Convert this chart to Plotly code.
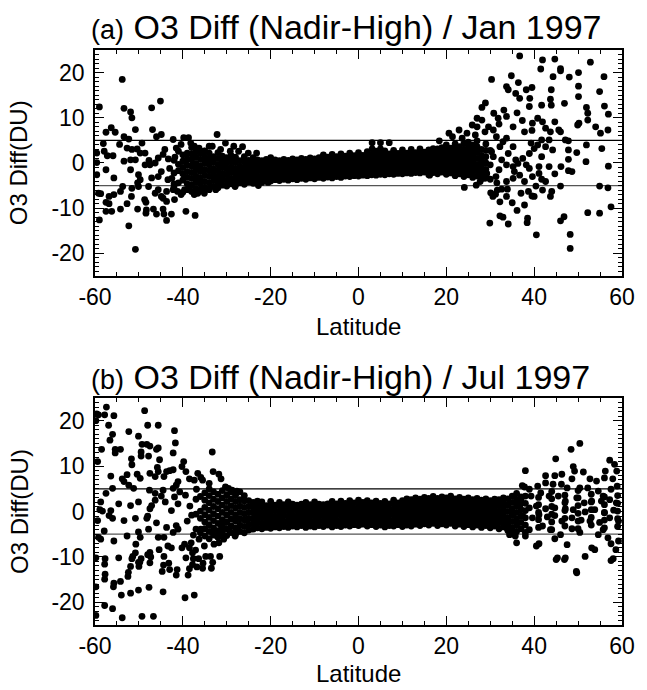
import plotly.graph_objects as go

# ---------------- Panel (a): Jan 1997 ----------------
band_a_lat = [-42, -41, -40, -39, -38, -37, -36, -35, -34, -33, -32, -31, -30, -29, -28, -27, -26, -25, -24, -23,
              -22, -21, -20, -19, -18, -17, -16, -15, -14, -13, -12, -11, -10, -9, -8, -7, -6, -5, -4, -3,
              -2, -1, 0, 1, 2, 3, 4, 5, 6, 7, 8, 9, 10, 11, 12, 13, 14, 15, 16, 17,
              18, 19, 20, 21, 22, 23, 24, 25, 26, 27, 28, 29, 30]
band_a_vals = [
    [-5.2, -2.2, 0.6], [-4.4, -1.7, -0.3, 2.6],
    [-6.5, -3.8, -2.4, -1.0, 0.4, 1.8], [-5.9, -4.6, -3.2, -1.9, -0.5, 0.9, 2.2],
    [-6.3, -4.8, -3.4, -2.1, -0.7, 0.7, 2.0, 3.4], [-5.6, -4.2, -2.9, -1.5, -0.2, 1.2, 2.5],
    [-6.0, -4.6, -3.3, -1.9, -0.6, 0.8, 2.1], [-5.4, -4.1, -2.7, -1.4, 0.0, 1.3, 2.7],
    [-5.7, -4.4, -3.0, -1.7, -0.4, 0.9, 2.2], [-5.2, -3.9, -2.6, -1.3, 0.1, 1.4],
    [-5.5, -4.2, -2.9, -1.6, -0.3, 1.0, 2.3], [-4.9, -3.6, -2.3, -1.0, 0.3, 1.5],
    [-5.1, -3.9, -2.6, -1.3, 0.0, 1.2], [-4.6, -3.4, -2.1, -0.9, 0.4, 1.6],
    [-4.8, -3.6, -2.4, -1.2, 0.1, 1.3], [-4.4, -3.2, -2.0, -0.8, 0.5],
    [-4.7, -3.5, -2.3, -1.1, 0.2, 1.4], [-4.2, -3.0, -1.8, -0.6, 0.6],
    [-4.5, -3.3, -2.1, -0.9, 0.3, 1.2], [-4.1, -2.9, -1.7, -0.5, 0.7],
    [-4.3, -3.1, -1.9, -0.7, 0.5], [-3.9, -2.8, -1.6, -0.4, 0.8],
    [-4.0, -2.9, -1.8, -0.7, 0.4, 1.2], [-3.7, -2.6, -1.5, -0.4, 0.7],
    [-3.9, -2.8, -1.7, -0.6, 0.5], [-3.6, -2.5, -1.4, -0.3, 0.8],
    [-3.8, -2.7, -1.6, -0.5, 0.6], [-3.5, -2.4, -1.3, -0.2, 0.9],
    [-3.7, -2.6, -1.5, -0.4, 0.7], [-3.4, -2.3, -1.2, -0.1, 1.0],
    [-3.6, -2.5, -1.4, -0.3, 0.8], [-3.3, -2.2, -1.1, 0.0, 1.1],
    [-3.5, -2.4, -1.3, -0.2, 0.9], [-3.2, -2.1, -1.0, 0.1, 1.2],
    [-3.4, -2.3, -1.2, -0.1, 1.0, 1.8], [-3.1, -2.0, -0.9, 0.2, 1.3],
    [-3.3, -2.2, -1.1, 0.0, 1.1, 1.9], [-3.0, -1.9, -0.8, 0.3, 1.4],
    [-3.2, -2.1, -1.0, 0.1, 1.2, 2.0], [-2.9, -1.8, -0.7, 0.4, 1.5],
    [-3.0, -1.9, -0.8, 0.3, 1.4, 2.2], [-2.8, -1.7, -0.6, 0.5, 1.6],
    [-2.9, -1.8, -0.7, 0.4, 1.5, 2.3], [-2.7, -1.6, -0.5, 0.6, 1.7],
    [-2.8, -1.7, -0.6, 0.5, 1.6, 2.5], [-2.6, -1.5, -0.4, 0.7, 1.8],
    [-2.7, -1.6, -0.5, 0.6, 1.7, 2.6], [-2.5, -1.4, -0.3, 0.8, 1.9],
    [-2.6, -1.5, -0.4, 0.7, 1.8, 2.7], [-2.4, -1.3, -0.2, 0.9, 2.0],
    [-2.5, -1.4, -0.3, 0.8, 1.9, 2.8], [-2.3, -1.2, -0.1, 1.0, 2.1],
    [-2.4, -1.3, -0.2, 0.9, 2.0, 2.9], [-2.2, -1.1, 0.0, 1.1, 2.2],
    [-2.3, -1.2, -0.1, 1.0, 2.1, 3.0], [-2.1, -1.0, 0.1, 1.2, 2.3],
    [-2.2, -1.1, 0.0, 1.1, 2.2, 3.1], [-2.0, -0.9, 0.2, 1.3, 2.4],
    [-2.6, -1.5, -0.4, 0.7, 1.8, 2.9], [-2.1, -1.0, 0.1, 1.2, 2.3, 3.2],
    [-2.4, -1.3, -0.2, 0.9, 2.0, 3.1], [-2.0, -0.9, 0.2, 1.3, 2.4, 3.4],
    [-2.5, -1.4, -0.3, 0.8, 1.9, 3.0, 4.0], [-2.2, -1.1, 0.0, 1.1, 2.2, 3.3],
    [-2.8, -1.6, -0.4, 0.8, 2.0, 3.2, 4.2], [-2.4, -1.2, 0.0, 1.2, 2.4, 3.6],
    [-3.0, -1.8, -0.6, 0.6, 1.8, 3.0, 4.3], [-2.6, -1.4, -0.2, 1.0, 2.2, 3.4, 4.6],
    [-3.2, -2.0, -0.8, 0.4, 1.6, 2.8, 4.0], [-2.9, -1.6, -0.3, 1.0, 2.3, 3.6, 4.9],
    [-3.5, -2.2, -0.9, 0.4, 1.7, 3.0], [-2.8, -1.4, 0.0, 1.4, 2.8, 4.2],
    [-3.6, -0.4, 2.8],
]

scat_a_lat = [
    -59.0, -53.8, -53.4, -51.9, -51.6, -47.1, -45.1, -50.8, -56.3, -57.5,
    -55.4, -46.9, -44.9, -46.0, -53.4, -52.3, -58.1, -54.4, -49.3, -42.2,
    -39.8, -38.7, -32.2, -30.3, -28.4, -26.4, -59.6, -57.9, -57.2, -55.9,
    -52.7, -51.6, -50.4, -48.6, -49.7, -59.6, -57.5, -53.4, -51.9, -50.8,
    -48.6, -47.7, -46.3, -45.6, -44.5, -44.1, -59.6, -55.7, -51.9, -50.1,
    -49.7, -50.3, -47.5, -47.1, -45.6, -44.9, -43.4, -59.2, -58.7, -56.8,
    -55.7, -54.2, -53.7, -51.6, -51.7, -50.1, -47.8, -46.3, -45.6, -44.9,
    -43.7, -42.2, -57.5, -56.8, -52.7, -48.7, -48.4, -44.5, -43.7, -41.9,
    -57.5, -56.2, -54.2, -50.3, -48.3, -48.4, -46.7, -46.0, -44.5, -44.3,
    -42.6, -43.7, -39.3, -37.2, -59.0, -52.3, -50.8,
    -41.5, -40.4, -38.2, -37.4, -36.3, -35.1, -34.0, -33.3, -31.4, -29.2, -27.3, -25.1, -23.2,
    -40.4, -39.6, -38.5, -37.4, -36.6, -35.1, -34.0, -32.5, -28.1, -26.2, -22.8, -20.6,
    -43.0, -42.5, -41.8, -43.3, -42.0, -41.2,
    36.7, 41.9, 44.7, 41.5, 46.0, 46.0, 44.3, 52.8, 55.9, 50.1,
    48.0, 30.3, 34.8, 33.7, 34.1, 36.4, 35.8, 38.2, 39.5, 36.7,
    39.0, 38.9, 41.7, 43.9, 43.7, 43.9, 46.9, 50.1, 50.1, 51.9,
    52.2, 54.9, 56.0, 56.9, 28.9, 28.1, 27.0, 28.1, 30.8, 31.8,
    33.1, 33.7, 32.0, 30.7, 29.6, 28.8, 35.2, 36.1, 37.3, 37.8,
    39.6, 39.5, 40.8, 41.9, 42.6, 43.7, 44.7, 46.0, 50.2, 52.2,
    54.0, 55.1, 56.8, 47.8, 51.9, 55.4, 51.8, 56.9, 47.8, 47.8,
    48.6, 46.1, 46.0, 44.0, 43.7, 42.6, 41.7, 41.1, 40.4, 39.5,
    40.0, 38.7, 37.8, 36.1, 35.0, 33.7, 33.9, 32.6, 31.6, 31.5,
    30.1, 30.6, 32.2, 29.9, 32.2, 32.9, 34.1, 38.5, 38.4, 40.5,
    46.0, 46.8, 48.2, 48.2, 52.2, 54.9, 57.5, 56.8, 54.9, 24.1,
    26.8, 27.7, 28.8, 29.2, 35.2, 36.3, 35.5, 36.7, 35.2, 35.8,
    34.1, 35.2, 32.9, 33.7, 31.4, 32.2, 30.3, 30.7, 32.6, 33.7,
    32.0, 31.3, 38.9, 40.0, 40.8, 39.3, 41.7, 42.6, 43.4, 44.2,
    41.7, 37.4, 38.2, 38.9, 41.1, 43.4, 44.7, 39.6, 37.8, 33.7,
    41.9, 37.0, 31.2, 47.8, 49.7, 47.1, 49.9, 45.6,
    3.1, 5.0, 7.0, 3.1, 5.0, 16.2, 18.4, 20.6, 21.4, 22.9,
    23.6, 24.7, 25.9, 26.6, 27.0,
]
scat_a_diff = [
    12.4, 18.5, 12.1, 11.3, 10.0, 12.2, 13.7, 7.4, 7.8, 6.8,
    6.8, 7.4, 6.3, 5.8, 5.8, 5.3, 4.3, 4.1, 4.4, 5.2,
    5.6, 5.6, 6.3, 4.4, 3.7, 3.6, 2.2, 2.6, 1.6, 1.6,
    3.3, 3.0, 3.1, 2.2, 2.2, 0.1, -1.5, 0.4, 0.7, 0.7,
    -0.4, 0.6, 0.0, 1.1, 1.9, 3.0, -2.6, -3.3, -1.5, -2.6,
    -3.7, -4.4, -0.4, -3.3, -3.0, -1.9, -3.7, -6.7, -6.8, -7.4,
    -7.0, -6.3, -5.2, -5.6, -7.4, -5.2, -5.2, -6.7, -5.9, -7.4,
    -6.3, -5.9, -8.7, -9.0, -9.0, -8.1, -8.7, -7.8, -8.5, -8.1,
    -10.7, -10.7, -10.2, -10.2, -10.4, -11.1, -10.2, -11.3, -10.2, -11.3,
    -11.3, -12.7, -10.7, -11.6, -12.6, -13.9, -19.1,
    3.3, 4.1, 4.4, 3.7, 3.3, 2.6, 3.7, 3.7, 3.0, 2.6, 2.6, 2.2, 2.2,
    -7.0, -5.9, -5.6, -7.0, -6.7, -6.7, -5.9, -5.9, -5.2, -4.4, -5.0, -4.3,
    -1.2, -3.4, 1.3, 0.9, -4.6, -6.3,
    23.7, 22.8, 23.0, 20.8, 20.9, 20.4, 19.1, 22.3, 19.1, 20.0,
    19.0, 18.5, 19.3, 16.9, 16.2, 17.8, 15.4, 16.2, 16.7, 14.3,
    14.3, 12.5, 12.8, 16.2, 14.1, 12.8, 13.2, 17.0, 14.7, 12.3,
    11.0, 15.8, 12.6, 10.8, 13.3, 12.3, 9.9, 9.5, 11.0, 9.9,
    11.7, 10.3, 8.6, 7.3, 8.0, 6.9, 8.0, 11.1, 9.4, 6.9,
    8.8, 7.2, 9.9, 9.1, 7.7, 6.9, 9.1, 6.9, 8.8, 9.5,
    8.0, 6.6, 7.3, 4.9, 4.0, 3.2, 0.3, -0.7, 0.8, -1.7,
    -1.9, -0.8, -5.1, -6.3, -7.4, -4.1, -3.6, -2.3, -5.1, -7.3,
    -7.4, -6.3, -9.3, -10.5, -8.8, -7.4, -5.8, -5.8, -6.0, -4.4,
    -6.6, -7.4, -8.6, -13.3, -11.7, -12.0, -13.5, -12.2, -13.2, -15.9,
    -12.8, -11.9, -15.8, -18.9, -11.0, -11.1, -9.7, -5.5, -5.1, -5.4,
    -4.9, -4.1, -3.4, -2.3, -0.8, -0.1, -1.9, -2.7, -3.4, 0.7,
    2.1, 3.6, 4.7, 5.5, 5.8, 3.6, 2.5, 1.4, 0.7, -0.4,
    -1.5, -3.0, 2.1, 3.2, 4.0, 4.4, 5.1, 3.6, 5.1, 2.9,
    1.4, 1.0, -0.4, -1.2, -0.8, -0.8, -2.4, -3.0, -4.1, -4.1,
    -6.0, -6.7, -6.9, 2.9, 2.3, 5.1, 8.4, 7.3,
    4.5, 4.5, 4.5, 3.1, 3.1, -2.7, 4.9, 6.6, 5.8, 7.3,
    5.5, 6.6, 8.4, 6.2, 8.0,
]

# ---------------- Panel (b): Jul 1997 ----------------
band_b_lat = [-37, -36, -35, -34, -33, -32, -31, -30, -29, -28, -27, -26, -25, -24, -23, -22, -21, -20, -19, -18,
              -17, -16, -15, -14, -13, -12, -11, -10, -9, -8, -7, -6, -5, -4, -3, -2, -1, 0, 1, 2,
              3, 4, 5, 6, 7, 8, 9, 10, 11, 12, 13, 14, 15, 16, 17, 18, 19, 20, 21, 22,
              23, 24, 25, 26, 27, 28, 29, 30, 31, 32, 33, 34, 35, 36, 37, 38,
              41, 44, 47, 50, 53, 56, 59]
band_b_vals = [
    [-3.9, -0.6, 2.7], [-4.7, -1.5, 0.1, 3.3],
    [-5.4, -3.8, -2.3, -0.7, 0.9, 2.5, 4.1], [-6.0, -4.4, -2.9, -1.3, 0.3, 1.9, 3.5, 5.0],
    [-5.2, -3.6, -2.0, -0.5, 1.1, 2.7, 4.3], [-5.7, -4.2, -2.6, -1.0, 0.6, 2.2, 3.8],
    [-4.9, -3.4, -1.8, -0.2, 1.4, 3.0, 4.6], [-5.3, -3.8, -2.3, -0.8, 0.7, 2.2, 3.7],
    [-4.6, -3.2, -1.7, -0.2, 1.3, 2.8, 4.3], [-5.0, -3.6, -2.1, -0.7, 0.8, 2.2, 3.6],
    [-4.4, -3.0, -1.6, -0.2, 1.2, 2.6], [-4.7, -3.3, -1.9, -0.5, 0.9, 2.3, 3.5],
    [-4.1, -2.8, -1.5, -0.2, 1.1, 2.4], [-3.9, -2.7, -1.5, -0.3, 0.9, 2.0],
    [-3.6, -2.4, -1.2, 0.0, 1.2, 2.3], [-3.8, -2.6, -1.4, -0.2, 1.0, 2.1],
    [-3.5, -2.3, -1.1, 0.1, 1.3], [-3.7, -2.5, -1.3, -0.1, 1.1, 2.2],
    [-3.4, -2.2, -1.0, 0.2, 1.4], [-3.6, -2.4, -1.2, 0.0, 1.2, 2.0],
    [-3.3, -2.1, -0.9, 0.3, 1.5], [-3.5, -2.3, -1.1, 0.1, 1.3, 2.1],
    [-3.2, -2.0, -0.8, 0.4, 1.6], [-3.4, -2.2, -1.0, 0.2, 1.4],
    [-3.1, -1.9, -0.7, 0.5, 1.6], [-3.5, -2.3, -1.1, 0.1, 1.3, 2.0],
    [-3.2, -2.0, -0.8, 0.4, 1.5], [-3.4, -2.2, -1.0, 0.2, 1.4, 2.1],
    [-3.1, -1.9, -0.7, 0.5, 1.6], [-3.3, -2.1, -0.9, 0.3, 1.5],
    [-3.0, -1.8, -0.6, 0.6, 1.7], [-3.4, -2.2, -1.0, 0.2, 1.4, 2.2],
    [-3.1, -1.9, -0.7, 0.5, 1.7], [-3.3, -2.1, -0.9, 0.3, 1.5, 2.3],
    [-3.0, -1.8, -0.6, 0.6, 1.8], [-3.2, -2.0, -0.8, 0.4, 1.6, 2.4],
    [-2.9, -1.7, -0.5, 0.7, 1.9], [-3.1, -1.9, -0.7, 0.5, 1.7, 2.5],
    [-2.8, -1.6, -0.4, 0.8, 2.0], [-3.2, -2.0, -0.8, 0.4, 1.6, 2.4],
    [-2.9, -1.7, -0.5, 0.7, 1.9], [-3.3, -2.1, -0.9, 0.3, 1.5, 2.3],
    [-3.0, -1.8, -0.6, 0.6, 1.8], [-3.4, -2.2, -1.0, 0.2, 1.4, 2.2],
    [-3.1, -1.9, -0.7, 0.5, 1.7], [-3.2, -2.0, -0.8, 0.4, 1.6, 2.5],
    [-2.9, -1.7, -0.5, 0.7, 1.9], [-3.3, -2.1, -0.9, 0.3, 1.5, 2.4],
    [-3.0, -1.8, -0.6, 0.6, 1.8, 2.8], [-3.2, -2.0, -0.8, 0.4, 1.6, 2.6],
    [-2.8, -1.6, -0.4, 0.8, 2.0, 3.0], [-3.1, -1.9, -0.7, 0.5, 1.7, 2.7],
    [-2.7, -1.5, -0.3, 0.9, 2.1, 3.1], [-3.0, -1.8, -0.6, 0.6, 1.8, 2.9],
    [-2.6, -1.4, -0.2, 1.0, 2.2, 3.3], [-3.1, -1.9, -0.7, 0.5, 1.7, 2.9],
    [-2.7, -1.5, -0.3, 0.9, 2.1, 3.2], [-3.0, -1.8, -0.6, 0.6, 1.8, 3.0],
    [-2.6, -1.4, -0.2, 1.0, 2.2, 3.4], [-3.2, -2.0, -0.8, 0.4, 1.6, 2.8],
    [-2.8, -1.6, -0.4, 0.8, 2.0, 3.1], [-3.3, -2.1, -0.9, 0.3, 1.5, 2.7],
    [-2.9, -1.7, -0.5, 0.7, 1.9, 3.0], [-3.4, -2.2, -1.0, 0.2, 1.4, 2.6],
    [-3.0, -1.8, -0.6, 0.6, 1.8, 2.9], [-3.5, -2.3, -1.1, 0.1, 1.3, 2.5],
    [-3.1, -1.9, -0.7, 0.5, 1.7, 2.8], [-3.6, -2.4, -1.2, 0.0, 1.2, 2.4],
    [-3.2, -2.0, -0.8, 0.4, 1.6, 2.7], [-3.8, -2.5, -1.2, 0.1, 1.4, 2.6],
    [-3.4, -2.1, -0.8, 0.5, 1.8, 3.0], [-4.2, -2.8, -1.4, 0.0, 1.4, 2.8],
    [-3.6, -2.2, -0.8, 0.6, 2.0, 3.4], [-4.4, -3.0, -1.6, -0.2, 1.2, 2.6, 4.0],
    [-3.8, -2.4, -1.0, 0.4, 1.8, 3.2], [-4.6, -3.0, -1.4, 0.2, 1.8, 3.4],
    [-3.5, -1.8, -0.2, 1.5, 3.1], [-4.0, -2.3, -0.6, 1.1, 2.8, 4.4],
    [-3.2, -1.5, 0.2, 1.9, 3.6], [-3.8, -2.1, -0.4, 1.3, 3.0, 4.6],
    [-3.0, -1.3, 0.4, 2.1, 3.8], [-3.6, -1.9, -0.2, 1.5, 3.2],
    [-3.3, -1.6, 0.1, 1.8, 3.5],
]

scat_b_lat = [
    -59.6, -59.2, -57.8, -57.4, -55.7, -59.8, -56.9, -56.0, -56.6, -58.5,
    -55.4, -55.4, -54.2, -59.4, -56.4, -56.0, -57.5, -58.7, -52.3, -50.1,
    -48.7, -48.0, -45.6, -49.3, -48.2, -47.5, -46.0, -45.6, -51.7, -51.6,
    -49.5, -49.5, -47.8, -45.3, -45.8, -45.6, -53.8, -53.4, -52.3, -52.7,
    -50.4, -49.7, -47.5, -46.3, -47.6, -51.2, -46.3, -44.3, -43.7, -43.0,
    -42.2, -41.7, -41.9, -42.2, -39.8, -40.2, -39.3, -38.5, -37.4, -36.6,
    -35.9, -35.5, -33.3, -33.1, -31.8, -31.3, -34.0, -30.3, -29.6, -28.8,
    -27.7, -27.0,
    -58.9, -58.3, -56.4, -56.8, -56.0, -59.4, -57.9, -59.2, -58.7, -55.7,
    -54.6, -53.4, -52.7, -51.9, -50.8, -50.1, -50.1, -49.7, -50.7, -50.8,
    -51.4, -49.5, -50.1, -51.9, -50.0, -54.6, -59.8, -57.8, -48.2, -48.0,
    -47.8, -47.5, -47.1, -46.3, -46.0, -45.6, -45.4, -47.5, -48.0, -47.5,
    -44.7, -44.3, -43.0, -41.5, -43.4, -42.6, -44.3, -43.7, -42.6, -44.0,
    -44.9, -44.5, -42.2, -41.5, -41.1, -40.7, -41.9, -41.1, -41.5, -42.2,
    -41.1, -40.2, -39.6, -39.3, -38.5, -38.1, -37.8, -38.8, -39.5, -37.4,
    -37.8, -36.8, -35.5, -37.1, -36.3, -35.9, -35.1, -34.8, -33.7, -33.5,
    -31.6, -32.9, -31.8, -32.2, -31.1, -30.7, -33.3, -31.3, -30.3, -29.2,
    -28.1, -27.3,
    -59.8, -57.8, -55.7, -55.8, -54.2, -54.0, -52.5, -51.9, -50.1, -47.7,
    -44.5, -59.8, -57.8, -56.0, -53.8, -49.3, -46.7, -57.7, -52.4, -51.6,
    -49.8, -57.7, -47.3, -44.4, -43.2, -41.3, -38.5, -37.6, -36.4, -35.4,
    -33.2, 45.3, 47.1, 49.6, 58.0,
    -39.0, -38.4, -37.6, -39.4, -38.0, -36.9,
    50.4, 48.4, 44.9, 57.2, 58.3, 56.2, 58.8, 38.0, 42.6, 44.7,
    46.3, 48.9, 49.2, 51.2, 48.6, 52.7, 54.2, 56.0, 57.9, 37.3,
    37.8, 38.9, 40.8, 42.6, 44.3, 46.2, 47.5, 50.4, 52.2, 54.6,
    55.7, 57.5, 58.9, 35.5, 37.0, 39.3, 41.5, 43.4, 45.5, 47.1,
    49.7, 51.4, 53.1, 55.3, 57.2, 58.7, 36.7, 38.9, 40.5, 42.6,
    44.7, 47.1, 48.9, 51.6, 53.8, 56.0, 58.1, 35.2, 37.4, 39.6,
    41.1, 43.0, 44.7, 46.3, 48.6, 50.7, 52.7, 54.9, 57.2, 59.2,
    34.8, 35.7, 36.0, 38.0, 38.9, 40.5, 41.1, 41.9, 43.7, 44.7,
    46.0, 47.5, 48.6, 50.4, 51.6, 45.0, 46.9, 49.7, 53.1, 53.8,
    54.6, 55.7, 56.8, 57.5, 58.6, 57.5, 59.2, 33.7, 34.4, 33.7,
]
scat_b_diff = [
    21.5, 21.3, 21.3, 23.0, 21.1, 20.0, 19.0, 17.0, 15.7, 13.7,
    13.7, 12.9, 13.7, 11.0, 7.8, 5.1, 4.0, 2.1, 17.6, 16.6,
    22.2, 19.0, 19.0, 14.8, 14.8, 14.4, 13.7, 14.0, 11.6, 10.3,
    13.1, 12.2, 12.2, 11.4, 9.7, 8.8, 7.2, 6.6, 5.8, 8.1,
    8.2, 7.3, 8.4, 7.7, 4.7, 5.1, 4.0, 7.7, 8.8, 9.0,
    9.2, 15.1, 17.8, 12.9, 11.0, 9.9, 8.8, 7.2, 6.9, 8.4,
    7.5, 6.9, 13.1, 8.8, 8.2, 7.2, 6.2, 5.4, 5.1, 4.7,
    4.5, 4.3,
    0.4, 0.1, 0.2, -0.9, -1.5, -2.0, -4.3, -5.7, -6.1, -6.5,
    1.7, -2.0, -5.4, 1.3, -1.5, 2.1, -4.5, -5.7, -7.2, -9.1,
    -9.9, -10.4, -11.2, -12.1, -12.1, -10.2, -10.2, -11.6, -1.5, -1.0,
    -3.9, 0.6, 1.3, 2.5, -2.5, -5.7, -8.4, -9.0, -9.5, -11.3,
    -13.2, -9.9, -12.8, -14.0, -7.6, -8.0, -5.7, -3.5, 0.2, 2.1,
    3.4, 4.7, 5.1, 5.8, 6.6, 4.3, 3.2, 1.7, -3.1, -4.6,
    -3.9, -8.0, -7.2, -10.2, -8.0, -6.9, -9.1, -14.0, -19.0, -18.4,
    -11.7, -12.2, -12.5, -8.5, -6.1, -3.9, -7.6, -9.9, -9.9, -12.5,
    -9.9, -7.2, -6.9, -5.4, -4.6, -6.1, -4.6, -3.1, -2.4, -4.6,
    -5.4, -4.3,
    -16.6, -14.9, -15.8, -16.6, -15.4, -18.4, -14.3, -18.0, -17.3, -16.7,
    -17.7, -22.9, -20.7, -21.4, -23.4, -23.1, -23.1, -13.8, -13.4, -10.4,
    -11.2, -10.4, -10.0, -11.8, -11.4, -12.8, -12.6, -10.4, -10.4, -11.4,
    -11.2, -10.2, -10.2, -13.2, -10.4,
    -2.1, 1.2, -5.2, 3.6, -0.8, 4.9,
    15.0, 13.7, 11.6, 11.3, 10.4, 8.9, 8.9, 9.0, 7.9, 7.9,
    8.2, 9.9, 8.9, 8.7, 7.2, 7.2, 6.7, 7.4, 7.2, 5.7,
    5.4, 4.9, 5.6, 6.3, 6.0, 6.0, 5.2, 5.2, 5.2, 4.5,
    3.4, 4.9, 5.6, 3.4, 2.6, 3.4, 4.1, 3.4, 3.4, 2.3,
    3.0, 1.9, 2.3, 2.3, 2.6, 1.9, 1.2, 0.8, 1.2, 0.6,
    0.8, 0.6, 0.4, -0.1, 0.4, -0.3, 0.3, -0.7, -1.0, -1.4,
    -0.7, -1.2, -0.9, -2.1, -1.4, -1.9, -2.1, -2.4, -1.4, -2.1,
    -4.3, -5.4, -6.9, -5.4, -4.0, -7.6, -7.1, -3.2, -4.0, -6.0,
    -5.1, -7.3, -3.8, -4.6, -9.9, -10.6, -10.6, -13.5, -8.0, -8.4,
    -5.1, -4.0, -5.8, -7.1, -8.4, -10.8, -6.5, -3.6, -5.1, -2.1,
]

x_ticks = [-60, -40, -20, 0, 20, 40, 60]
y_ticks = [-20, -10, 0, 10, 20]
ref_levels = [5, -5]


def expand(lats, cols):
    xs, ys = [], []
    for la, col in zip(lats, cols):
        for v in col:
            xs.append(la)
            ys.append(v)
    return xs, ys


ba_x, ba_y = expand(band_a_lat, band_a_vals)
bb_x, bb_y = expand(band_b_lat, band_b_vals)

FONT = "Liberation Sans, Arial, Helvetica, sans-serif"
mk = dict(color="black", size=6.8, line=dict(width=0))

fig = go.Figure()
fig.add_trace(go.Scatter(x=ba_x + scat_a_lat, y=ba_y + scat_a_diff, mode="markers",
                         marker=mk, xaxis="x", yaxis="y", showlegend=False, hoverinfo="skip"))
fig.add_trace(go.Scatter(x=bb_x + scat_b_lat, y=bb_y + scat_b_diff, mode="markers",
                         marker=mk, xaxis="x2", yaxis="y2", showlegend=False, hoverinfo="skip"))

for xr, yr in (("x", "y"), ("x2", "y2")):
    for lvl, col in zip(ref_levels, ["black", "#555555"]):
        fig.add_shape(type="line", xref=xr, yref=yr, x0=-60, x1=60, y0=lvl, y1=lvl,
                      line=dict(color=col, width=1.3), layer="below")

xax = dict(range=[-60, 60], tickmode="array", tickvals=x_ticks, ticktext=[str(t) for t in x_ticks],
           ticks="inside", ticklen=9, tickwidth=1.2, tickcolor="black",
           minor=dict(dtick=5, tick0=-60, ticks="inside", ticklen=4, tickwidth=1, tickcolor="black"),
           showline=True, linecolor="black", linewidth=1.5, mirror="ticks",
           showgrid=False, zeroline=False, ticklabelstandoff=0,
           tickfont=dict(family=FONT, size=23, color="black"))
yax = dict(range=[-25, 25], tickmode="array", tickvals=y_ticks, ticktext=[str(t) for t in y_ticks],
           ticks="inside", ticklen=9, tickwidth=1.2, tickcolor="black",
           minor=dict(dtick=1, tick0=0, ticks="inside", ticklen=4, tickwidth=1, tickcolor="black"),
           showline=True, linecolor="black", linewidth=1.5, mirror="ticks",
           showgrid=False, zeroline=False, ticklabelstandoff=4,
           tickfont=dict(family=FONT, size=23, color="black"))

fig.update_layout(
    width=647, height=690,
    margin=dict(l=95, r=16, t=50, b=65),
    paper_bgcolor="white", plot_bgcolor="white",
    xaxis=dict(xax, anchor="y", domain=[0, 1]),
    yaxis=dict(yax, anchor="x", domain=[0.607, 1.0]),
    xaxis2=dict(xax, anchor="y2", domain=[0, 1]),
    yaxis2=dict(yax, anchor="x2", domain=[0.0, 0.3948]),
    font=dict(family=FONT, color="black"),
)

titles = [("(a)", "O3 Diff (Nadir-High) / Jan 1997", 1.04),
          ("(b)", "O3 Diff (Nadir-High) / Jul 1997", 0.432)]
for tag, txt, yp in titles:
    fig.add_annotation(text="<span style='font-size:27px'>" + tag + "</span> " + txt,
                       xref="paper", yref="paper", x=-0.011, y=yp, xanchor="left", yanchor="middle",
                       showarrow=False, font=dict(family=FONT, size=34, color="black"))

for yp in (0.52, -0.085):
    fig.add_annotation(text="Latitude", xref="paper", yref="paper", x=0.5, y=yp,
                       xanchor="center", yanchor="middle", showarrow=False,
                       font=dict(family=FONT, size=24, color="black"))
for yp in (0.8035, 0.197):
    fig.add_annotation(text="O3 Diff(DU)", xref="paper", yref="paper", x=-0.1437, y=yp,
                       xanchor="center", yanchor="middle", textangle=-90, showarrow=False,
                       font=dict(family=FONT, size=24, color="black"))

fig.write_html("out.html", config={"displayModeBar": False},
               post_script="document.body.style.margin='0';document.body.style.overflow='hidden';")
